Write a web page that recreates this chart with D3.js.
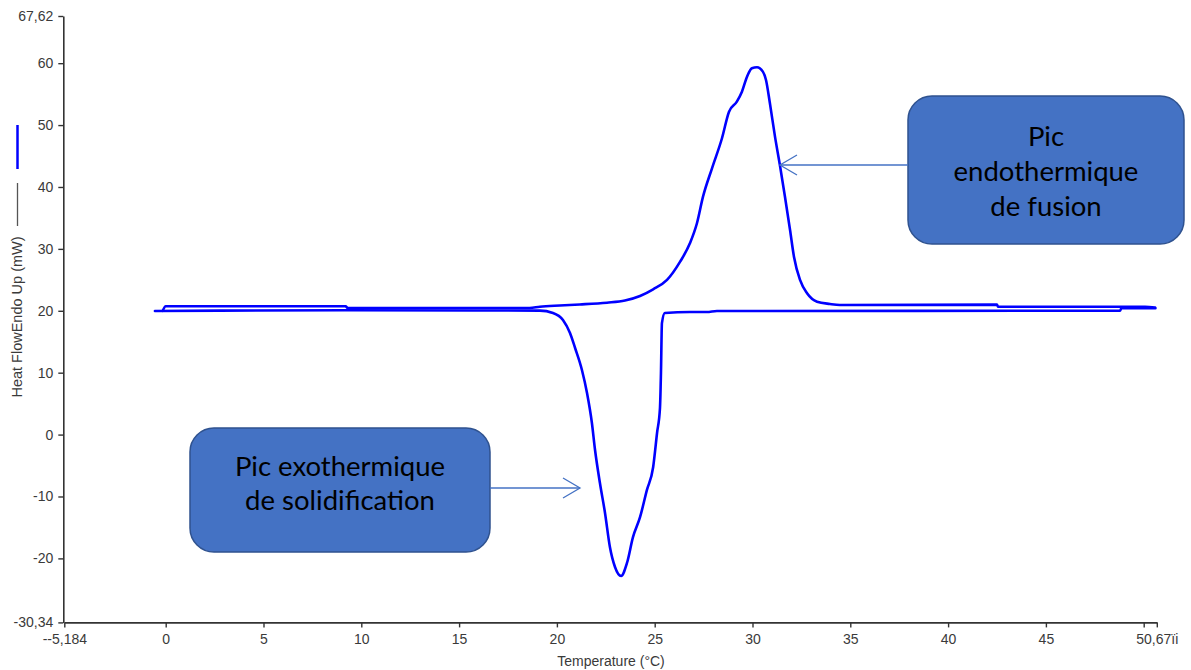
<!DOCTYPE html>
<html>
<head>
<meta charset="utf-8">
<script src="https://cdn.jsdelivr.net/npm/d3@7"></script>
<style>
  html, body { margin: 0; padding: 0; background: #fff; }
  svg { display: block; }
</style>
</head>
<body>
<svg id="chart" width="1191" height="670"></svg>
<script>
// DSC thermogram: heating run (endothermic melting peak) and cooling run (exothermic solidification peak)

// Heating run: temperature (°C) and heat flow (mW)
const heatTemp = [-0.15, 0.0, 9.2, 9.3, 18.6, 19.13, 20.15, 21.17, 22.56, 23.48, 24.25, 24.92, 25.63, 26.3, 26.8, 27.16, 27.47, 27.93, 28.44, 28.8, 29.2, 29.46, 29.72, 29.97, 30.23, 30.53, 30.69, 30.89, 31.15, 31.4, 31.66, 31.92, 32.12, 32.43, 32.79, 33.3, 33.96, 34.47, 42.5, 42.55, 50.07, 50.58];
const heatFlow = [20.0, 20.72, 20.72, 20.45, 20.45, 20.66, 20.86, 21.02, 21.31, 21.66, 22.39, 23.47, 24.98, 27.93, 30.9, 34.14, 38.43, 43.02, 47.87, 52.16, 53.78, 55.4, 57.82, 59.18, 59.34, 58.63, 57.28, 53.52, 48.13, 43.55, 38.43, 33.05, 28.74, 24.98, 22.83, 21.47, 21.1, 20.94, 20.99, 20.66, 20.66, 20.53];

// Cooling run, from the hot end down
const coolTemp = [50.6, 48.85, 48.8, 29.35, 28.18, 27.67, 26.8, 25.52, 25.37, 25.32, 25.27, 25.12, 24.92, 24.6, 24.25, 23.89, 23.58, 23.28, 22.97, 22.71, 22.46, 22.2, 21.95, 21.79, 21.54, 21.28, 20.93, 20.67, 20.31, 19.8, 19.13, 9.2, -0.55];
const coolFlow = [20.4, 20.4, 20.02, 19.97, 19.97, 19.8, 19.8, 19.64, 18.0, 9.95, 4.3, 0.26, -5.27, -8.98, -13.35, -16.57, -20.78, -22.84, -21.39, -18.16, -12.66, -7.82, -2.49, 1.87, 6.72, 10.44, 13.99, 16.41, 18.51, 19.64, 20.02, 20.08, 19.96];

// Axis ranges and tick labels
const xDomain = [-5.184, 50.67];
const yDomain = [-30.34, 67.62];
const xTickValues = [-5.184, 0, 5, 10, 15, 20, 25, 30, 35, 40, 45, 50, 50.67];
const xTickLabels = ["--5,184", "0", "5", "10", "15", "20", "25", "30", "35", "40", "45", "", "50,67ïi"];
const yTickValues = [-30.34, -20, -10, 0, 10, 20, 30, 40, 50, 60, 67.62];
const yTickLabels = ["-30,34", "-20", "-10", "0", "10", "20", "30", "40", "50", "60", "67,62"];

// Callout texts
const endoLines = ["Pic", "endothermique", "de fusion"];
const exoLines = ["Pic exothermique", "de solidification"];

const svg = d3.select("#chart");

const x = d3.scaleLinear().domain(xDomain).range([64.3, 1156.8]);
const y = d3.scaleLinear().domain(yDomain).range([622.4, 16.0]);

const axisColor = "#333";
const tickFont = "'Liberation Sans', Arial, sans-serif";

// X axis
const xAxis = d3.axisBottom(x)
  .tickValues(xTickValues)
  .tickSize(5)
  .tickSizeOuter(0)
  .tickFormat((d, i) => xTickLabels[i]);
const gx = svg.append("g")
  .attr("transform", `translate(0,${y(yDomain[0])})`)
  .call(xAxis);

// Y axis
const yAxis = d3.axisLeft(y)
  .tickValues(yTickValues)
  .tickSize(5)
  .tickSizeOuter(0)
  .tickFormat((d, i) => yTickLabels[i]);
const gy = svg.append("g")
  .attr("transform", `translate(${x(xDomain[0]) - 1},0)`)
  .call(yAxis);

[gx, gy].forEach(g => {
  g.select(".domain").attr("stroke", axisColor).attr("stroke-width", 1.6);
  g.selectAll(".tick line").attr("stroke", axisColor).attr("stroke-width", 1.4);
  g.selectAll(".tick text")
    .attr("fill", "#3a3a3a")
    .style("font-family", tickFont)
    .style("font-size", "14px");
});
gx.selectAll(".tick text").attr("dy", "1.0em");
gy.selectAll(".tick text").attr("x", -10);

// Axis titles
svg.append("text")
  .attr("x", 611).attr("y", 666)
  .attr("text-anchor", "middle")
  .attr("fill", "#3a3a3a")
  .style("font-family", tickFont)
  .style("font-size", "14px")
  .text("Temperature (°C)");

svg.append("text")
  .attr("transform", "translate(22,317) rotate(-90)")
  .attr("text-anchor", "middle")
  .attr("fill", "#3a3a3a")
  .style("font-family", tickFont)
  .style("font-size", "14.5px")
  .text("Heat FlowEndo Up (mW)");

// Legend swatches beside the y title
svg.append("line")
  .attr("x1", 17.5).attr("x2", 17.5).attr("y1", 125).attr("y2", 169)
  .attr("stroke", "#0000ff").attr("stroke-width", 2.5);
svg.append("line")
  .attr("x1", 17.5).attr("x2", 17.5).attr("y1", 183).attr("y2", 226)
  .attr("stroke", "#555").attr("stroke-width", 1.3);

// Curves: monotone interpolation in x keeps the flat baselines free of overshoot
const line = d3.line()
  .curve(d3.curveMonotoneX)
  .x(d => x(d[0])).y(d => y(d[1]));
const heating = heatTemp.map((t, i) => [t, heatFlow[i]]);
const cooling = coolTemp.map((t, i) => [t, coolFlow[i]]).reverse();

[cooling, heating].forEach(data => {
  svg.append("path")
    .datum(data)
    .attr("d", line)
    .attr("fill", "none")
    .attr("stroke", "#0000ff")
    .attr("stroke-width", 2.6)
    .attr("stroke-linejoin", "round")
    .attr("stroke-linecap", "round");
});

// Callouts
const boxFill = "#4472C4";
const boxStroke = "#2F528F";
const calloutFont = "Lato, 'Open Sans', sans-serif";

function callout(bx, by, bw, bh, lines, lineY, fontSize) {
  svg.append("rect")
    .attr("x", bx).attr("y", by).attr("width", bw).attr("height", bh)
    .attr("rx", 24).attr("ry", 24)
    .attr("fill", boxFill).attr("stroke", boxStroke).attr("stroke-width", 1.5);
  lines.forEach((t, i) => {
    svg.append("text")
      .attr("x", bx + bw / 2).attr("y", lineY[i])
      .attr("text-anchor", "middle")
      .attr("dominant-baseline", "central")
      .attr("fill", "#000")
      .style("font-family", calloutFont)
      .style("font-size", fontSize + "px")
      .text(t);
  });
}

function arrow(x1, x2, yy) {
  const dir = x2 > x1 ? -1 : 1;
  const g = svg.append("g")
    .attr("stroke", boxFill).attr("stroke-width", 1.3).attr("fill", "none");
  g.append("line").attr("x1", x1).attr("x2", x2).attr("y1", yy).attr("y2", yy);
  g.append("polyline")
    .attr("points", `${x2 + dir * 17},${yy - 10} ${x2},${yy} ${x2 + dir * 17},${yy + 10}`);
}

// Melting peak callout
callout(908, 96, 276, 148, endoLines, [135, 170, 205], 27.5);
arrow(908, 780, 165);

// Solidification peak callout
callout(190, 428, 300, 124, exoLines, [465, 499], 27.5);
arrow(490, 580, 488);
</script>
</body>
</html>
